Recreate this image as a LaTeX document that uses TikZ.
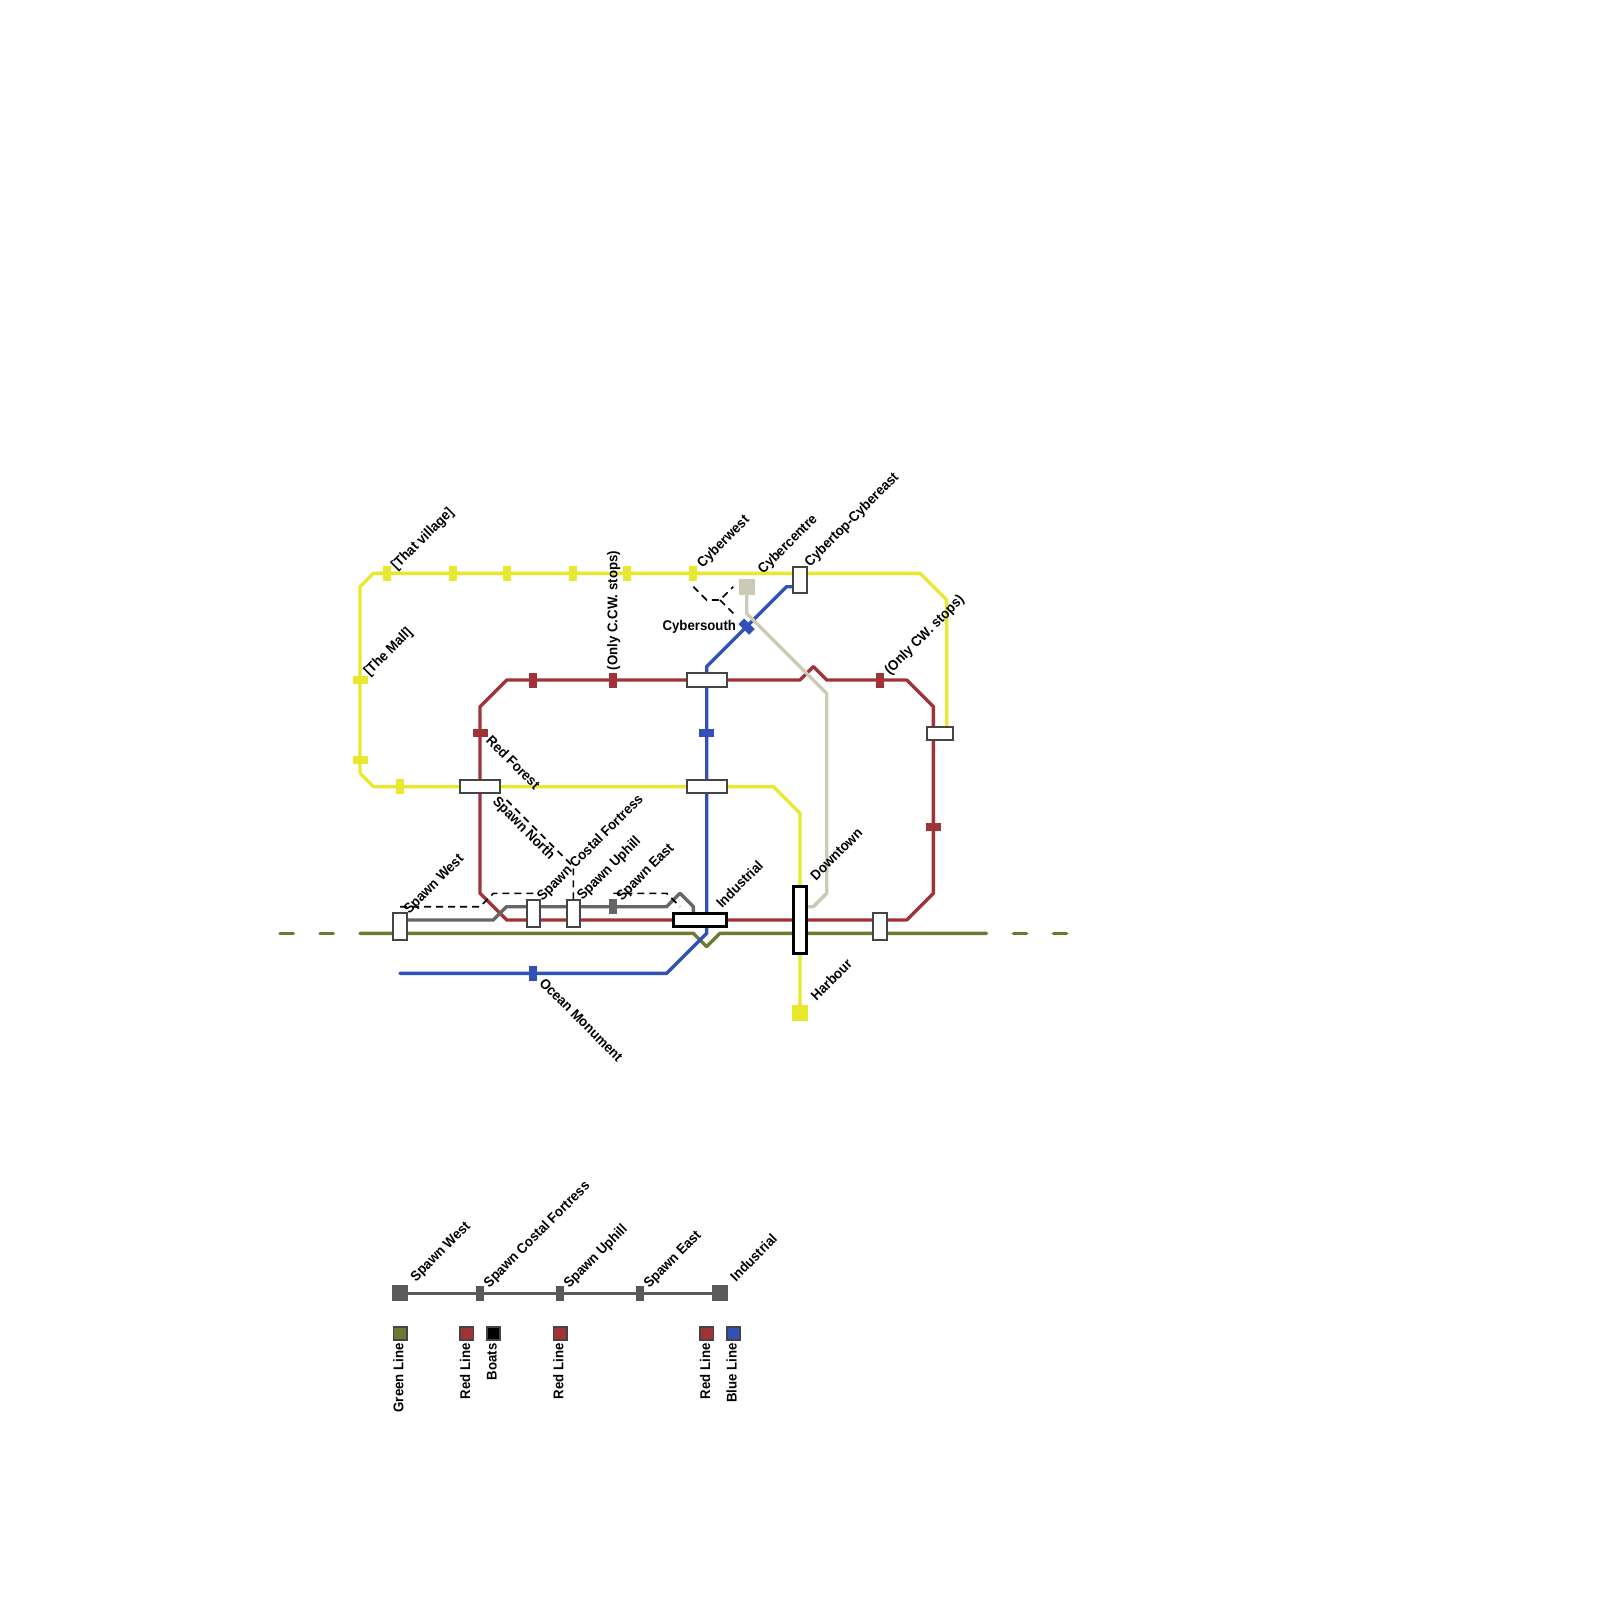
\documentclass[tikz,border=0pt]{standalone}
\usepackage{fontspec}
\newfontfamily\lblfont{Liberation Sans}[UprightFont=* Bold,FakeStretch=0.94]
\definecolor{cY}{HTML}{E8E82E}
\definecolor{cR}{HTML}{A03338}
\definecolor{cB}{HTML}{3150B8}
\definecolor{cG}{HTML}{6B7A33}
\definecolor{cC}{HTML}{CBCAB4}
\definecolor{cK}{HTML}{666666}
\definecolor{cK2}{HTML}{5A5A5A}
\definecolor{cS}{HTML}{444444}
\tikzset{
 sq/.style={inner sep=0pt,outer sep=0pt,draw=none,fill=#1},
 vt/.style={sq=#1,minimum width=0.24cm,minimum height=0.45cm},
 ht/.style={sq=#1,minimum width=0.45cm,minimum height=0.24cm},
 big/.style={sq=#1,minimum width=0.48cm,minimum height=0.48cm},
 mline/.style={line width=0.1cm,line join=round},
 stn/.style={inner sep=0pt,outer sep=0pt,draw=cS,fill=white,line width=0.06cm},
 tstn/.style={inner sep=0pt,outer sep=0pt,draw=black,fill=white,line width=0.09cm},
 dashl/.style={line width=0.05cm,black,dash pattern=on 0.21cm off 0.15cm},
 key/.style={inner sep=0pt,outer sep=0pt,draw=cS,fill=#1,line width=0.05cm,minimum width=0.4cm,minimum height=0.4cm},
 lab/.style={font=\lblfont\fontsize{12pt}{14pt}\selectfont,inner sep=0pt,outer sep=0pt,text=black},
 up/.style={lab,anchor=base west,rotate=45},
 down/.style={lab,anchor=base west,rotate=-45},
 vert/.style={lab,anchor=base west,rotate=90},
 vdown/.style={lab,anchor=base east,rotate=90},
}
\begin{document}
\begin{tikzpicture}[x=0.4cm,y=-0.4cm]
\useasboundingbox[fill=white] (0,0) rectangle (120,120);

% waypoints
\foreach \n/\x/\y in {
 ya/27/44, yb/28/43, yc/69/43, yd/71/45, ye/71/55, yf/27/58, yg/28/59, yh/58/59, yi/60/61, yj/60/76,
 ra/36/53, rb/38/51, rc/60/51, rd/61/50, re/62/51, rf/68/51, rg/70/53, rh/70/67, ri/68/69, rj/38/69, rk/36/67,
 ba/30/73, bb/50/73, bc/53/70, bd/53/50, be/59/44, bf/60/44,
 ga/27/70, gb/52/70, gc/53/71, gd/54/70, ge/74/70, gf/21/70, gg/22/70, gh/24/70, gi/25/70, gj/76/70, gk/77/70, gl/79/70, gm/80/70,
 ca/56/44, cb/56/46, cc/62/52, cd/62/67, ce/61/68, cf/60/68,
 ka/30/69, kb/37/69, kc/38/68, kd/50/68, ke/51/67, kf/52/68, kg/52/69,
 da/52/44, db/53/45, dc/54/45, dd/55/44, de/55/46,
 ea/38/60, eb/43/65, ec/43/67.5,
 fa/30/68, fb/36/68, fc/37/67, fd/40/67,
 ha/46/67, hb/50/67, hc/51/68}
 {\coordinate (\n) at (\x,\y);}

% lines
\draw[cG,mline,line cap=round] (ga)--(gb)--(gc)--(gd)--(ge);
\draw[cG,mline,line cap=round] (gf)--(gg);
\draw[cG,mline,line cap=round] (gh)--(gi);
\draw[cG,mline,line cap=round] (gj)--(gk);
\draw[cG,mline,line cap=round] (gl)--(gm);
\draw[cR,mline] (ra)--(rb)--(rc)--(rd)--(re)--(rf)--(rg)--(rh)--(ri)--(rj)--(rk)--cycle;
\draw[cB,mline,line cap=round] (ba)--(bb)--(bc)--(bd)--(be)--(bf);
\draw[cY,mline] (yf)--(ya)--(yb)--(yc)--(yd)--(ye);
\draw[cY,mline] (yf)--(yg)--(yh)--(yi)--(yj);
\draw[cC,mline] (ca)--(cb)--(cc)--(cd)--(ce)--(cf);
\draw[cK,mline] (ka)--(kb)--(kc)--(kd)--(ke)--(kf)--(kg);

% dashed links
\draw[dashl] (da)--(db)--(dc)--(dd);
\draw[dashl] (dc)--(de);
\draw[dashl] (ea)--(eb)--(ec);
\draw[dashl] (fa)--(fb)--(fc)--(fd);
\draw[dashl] (ha)--(hb)--(hc);

% ticks
\node[vt=cY] (ty1) at (29,43) {};
\node[vt=cY] (ty2) at (34,43) {};
\node[vt=cY] (ty3) at (38,43) {};
\node[vt=cY] (ty4) at (43,43) {};
\node[vt=cY] (ty5) at (47,43) {};
\node[vt=cY] (ty6) at (52,43) {};
\node[ht=cY] (ty7) at (27,51) {};
\node[ht=cY] (ty8) at (27,57) {};
\node[vt=cY] (ty9) at (30,59) {};
\node[big=cY] (harb) at (yj) {};
\node[vt=cR] (tr1) at (40,51) {};
\node[vt=cR] (tr2) at (46,51) {};
\node[vt=cR] (tr3) at (66,51) {};
\node[ht=cR] (tr4) at (36,55) {};
\node[ht=cR] (tr5) at (70,62) {};
\node[vt=cB] (tb1) at (40,73) {};
\node[ht=cB] (tb2) at (53,55) {};
\node[vt=cB,rotate=45] (tb3) at (56,47) {};
\node[vt=cK] (tk1) at (46,68) {};
\node[big=cC] (ccen) at (ca) {};

% stations
\node[stn,minimum width=0.4cm,minimum height=0.8cm] (s1) at (30,69.5) {};
\node[stn,minimum width=0.4cm,minimum height=0.8cm] (s2) at (40,68.5) {};
\node[stn,minimum width=0.4cm,minimum height=0.8cm] (s3) at (43,68.5) {};
\node[stn,minimum width=0.4cm,minimum height=0.8cm] (s4) at (66,69.5) {};
\node[stn,minimum width=0.4cm,minimum height=0.8cm] (s5) at (60,43.5) {};
\node[stn,minimum width=1.2cm,minimum height=0.4cm] (s6) at (36,59) {};
\node[stn,minimum width=1.2cm,minimum height=0.4cm] (s7) at (53,59) {};
\node[stn,minimum width=1.2cm,minimum height=0.4cm] (s8) at (53,51) {};
\node[stn,minimum width=0.8cm,minimum height=0.4cm] (s9) at (70.5,55) {};
\node[tstn,minimum width=1.6cm,minimum height=0.4cm] (s10) at (52.5,69) {};
\node[tstn,minimum width=0.4cm,minimum height=2cm] (s11) at (60,69) {};

% labels
\node[up] (l1) at (29.75,42.8) {[That village]};
\node[up] (l2) at (27.7,50.75) {[The Mall]};
\node[vert] (l3) at (46.3,50.25) {(Only C.CW. stops)};
\node[up] (l4) at (52.7,42.6) {Cyberwest};
\node[up] (l5) at (57.25,43.1) {Cybercentre};
\node[up] (l6) at (60.75,42.55) {Cybertop-Cybereast};
\node[up] (l7) at (66.75,50.65) {(Only CW. stops)};
\node[lab,anchor=base east] (l8) at (55.2,47.25) {Cybersouth};
\node[down] (l9) at (36.4,55.6) {Red Forest};
\node[down] (l10) at (36.9,60.2) {Spawn North};
\node[up] (l11) at (30.7,68.6) {Spawn West};
\node[up] (l12) at (40.7,67.6) {Spawn Costal Fortress};
\node[up] (l13) at (43.7,67.55) {Spawn Uphill};
\node[up] (l14) at (46.65,67.6) {Spawn East};
\node[up] (l15) at (54.15,68.15) {Industrial};
\node[up] (l16) at (61.2,66.1) {Downtown};
\node[up] (l17) at (61.25,75.1) {Harbour};
\node[down] (l18) at (40.4,73.8) {Ocean Monument};

% legend
\node[big=cK2] (k1) at (30,97) {};
\node[vt=cK2] (k2) at (36,97) {};
\node[vt=cK2] (k3) at (42,97) {};
\node[vt=cK2] (k4) at (48,97) {};
\node[big=cK2] (k5) at (54,97) {};
\draw[cK2,mline] (k1)--(k2)--(k3)--(k4)--(k5);
\node[up] (m1) at (31.2,96.15) {Spawn West};
\node[up] (m2) at (36.7,96.6) {Spawn Costal Fortress};
\node[up] (m3) at (42.7,96.65) {Spawn Uphill};
\node[up] (m4) at (48.7,96.65) {Spawn East};
\node[up] (m5) at (55.2,96.15) {Industrial};
\node[key=cG] (q1) at (30,100) {};
\node[key=cR] (q2) at (35,100) {};
\node[key=black] (q3) at (37,100) {};
\node[key=cR] (q4) at (42,100) {};
\node[key=cR] (q5) at (53,100) {};
\node[key=cB] (q6) at (55,100) {};
\node[vdown] (n1) at (30.25,100.75) {Green Line};
\node[vdown] (n2) at (35.25,100.75) {Red Line};
\node[vdown] (n3) at (37.25,100.75) {Boats};
\node[vdown] (n4) at (42.25,100.75) {Red Line};
\node[vdown] (n5) at (53.25,100.75) {Red Line};
\node[vdown] (n6) at (55.25,100.75) {Blue Line};
\end{tikzpicture}
\end{document}
